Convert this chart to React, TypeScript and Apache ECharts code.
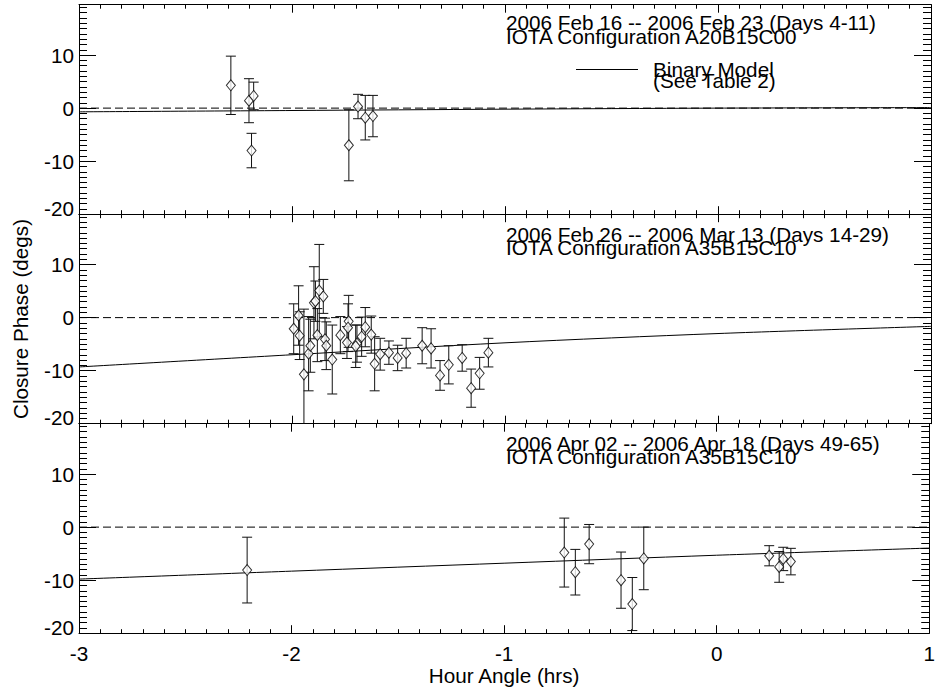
import { useEffect, useRef } from "react";
import * as echarts from "echarts";

// ---------- data ----------
const hourAngleTicks = [-3, -2, -1, 0, 1];
const phaseTicks = [-20, -10, 0, 10];

// Panel 1: 2006 Feb 16 -- Feb 23
const p1HourAngle = [-2.287, -2.202, -2.18, -2.19, -1.733, -1.69, -1.656, -1.62];
const p1Phase = [4.3, 1.4, 2.3, -8.0, -7.0, 0.3, -1.8, -1.5];
const p1Err = [5.5, 4.15, 2.6, 3.25, 6.7, 2.3, 4.2, 3.9];

// Panel 2: 2006 Feb 26 -- Mar 13
const p2HourAngle = [
  -1.992, -1.969, -1.964, -1.944, -1.922, -1.914, -1.897, -1.89, -1.881, -1.872,
  -1.853, -1.845, -1.839, -1.811, -1.773, -1.734, -1.737, -1.742, -1.695, -1.701,
  -1.673, -1.656, -1.628, -1.612, -1.586, -1.545, -1.504, -1.464, -1.389, -1.347,
  -1.305, -1.264, -1.201, -1.159, -1.119, -1.078,
];
const p2Phase = [
  -2.1, 0.4, -3.4, -10.7, -6.8, -5.3, 2.8, 3.1, -3.3, 5.1,
  4.0, -4.1, -5.3, -7.9, -3.3, -0.7, -1.9, -4.7, -4.9, -5.4,
  -3.6, -1.8, -3.2, -8.7, -6.9, -6.6, -7.6, -6.7, -5.3, -5.8,
  -10.9, -8.9, -7.6, -13.3, -10.5, -6.6,
];
const p2Err = [
  4.7, 5.6, 4.5, 12.3, 7.0, 5.0, 6.8, 3.8, 5.0, 8.7,
  3.2, 4.0, 4.5, 6.5, 3.5, 4.9, 4.5, 3.0, 3.5, 4.0,
  3.7, 3.7, 3.5, 5.1, 3.0, 2.2, 2.4, 2.8, 3.4, 3.7,
  2.8, 3.6, 2.5, 3.6, 3.0, 2.7,
];

// Panel 3: 2006 Apr 02 -- Apr 18
const p3HourAngle = [-2.209, -0.717, -0.665, -0.6, -0.45, -0.397, -0.343, 0.247, 0.294, 0.313, 0.349];
const p3Phase = [-8.1, -4.8, -8.5, -3.2, -10.0, -14.5, -5.9, -5.4, -7.5, -6.0, -6.5];
const p3Err = [6.2, 6.5, 4.3, 3.7, 5.3, 5.0, 5.9, 1.9, 2.9, 2.2, 2.5];

// Binary model curves
const modelHourAngle = [-3, -2, -1, 0, 1];
const p1Model = [-0.7, -0.45, -0.2, 0.0, 0.1];
const p2Model = [-9.3, -7.0, -4.75, -3.0, -1.65];
const p3Model = [-9.8, -8.3, -6.8, -5.3, -3.95];

const panelTitles = [
  ["2006 Feb 16 -- 2006 Feb 23 (Days 4-11)", "IOTA Configuration A20B15C00"],
  ["2006 Feb 26 -- 2006 Mar 13 (Days 14-29)", "IOTA Configuration A35B15C10"],
  ["2006 Apr 02 -- 2006 Apr 18 (Days 49-65)", "IOTA Configuration A35B15C10"],
];
const legendLines = ["Binary Model", "(See Table 2)"];
const xTitle = "Hour Angle (hrs)";
const yTitle = "Closure Phase (degs)";

// ---------- layout ----------
const FONT = '"Liberation Sans", Arial, Helvetica, sans-serif';
const FS = 20.7;
const GRID_LEFT = 79;
const GRID_WIDTH = 852;
const GRID_TOPS = [4.7, 214.2, 423.7];
const GRID_H = 209.5;
const TITLE_CY = [29.3, 240.8, 450.0];
const TITLE_LH = 13.6;

export default function App() {
  const ref = useRef<HTMLDivElement>(null);

  useEffect(() => {
    if (!ref.current) return;
    const chart = echarts.init(ref.current, null, { renderer: "svg" });

    const panels = [
      { xs: p1HourAngle, ys: p1Phase, es: p1Err, model: p1Model },
      { xs: p2HourAngle, ys: p2Phase, es: p2Err, model: p2Model },
      { xs: p3HourAngle, ys: p3Phase, es: p3Err, model: p3Model },
    ];

    const black = "#000";
    const tickStyle = { color: black, width: 1 };

    const grids = GRID_TOPS.map((t) => ({
      left: GRID_LEFT,
      width: GRID_WIDTH,
      top: t,
      height: GRID_H,
      containLabel: false,
    }));

    const xAxes: any[] = [];
    const yAxes: any[] = [];
    for (let i = 0; i < 3; i++) {
      xAxes.push({
        gridIndex: i,
        type: "value",
        position: "bottom",
        min: hourAngleTicks[0],
        max: hourAngleTicks[hourAngleTicks.length - 1],
        interval: 1,
        axisLine: { show: true, onZero: false, lineStyle: { color: black, width: 1 } },
        axisTick: { show: true, inside: true, length: 8, lineStyle: tickStyle },
        minorTick: { show: true, splitNumber: 10, length: 4, lineStyle: tickStyle },
        splitLine: { show: false },
        minorSplitLine: { show: false },
        axisLabel: {
          show: i === 2,
          color: black,
          fontFamily: FONT,
          fontSize: FS,
          margin: 10,
          formatter: (v: number) => String(v),
        },
        name: i === 2 ? xTitle : "",
        nameLocation: "middle",
        nameGap: 32,
        nameTextStyle: { color: black, fontFamily: FONT, fontSize: FS },
      });
    }
    for (let i = 0; i < 3; i++) {
      xAxes.push({
        gridIndex: i,
        type: "value",
        position: "top",
        min: hourAngleTicks[0],
        max: hourAngleTicks[hourAngleTicks.length - 1],
        interval: 1,
        axisLine: { show: true, onZero: false, lineStyle: { color: black, width: 1 } },
        axisTick: { show: true, inside: true, length: 8, lineStyle: tickStyle },
        minorTick: { show: true, splitNumber: 10, length: 4, lineStyle: tickStyle },
        splitLine: { show: false },
        axisLabel: { show: false },
      });
    }
    for (let i = 0; i < 3; i++) {
      yAxes.push({
        gridIndex: i,
        type: "value",
        position: "left",
        min: phaseTicks[0],
        max: 19.5,
        interval: 10,
        axisLine: { show: true, onZero: false, lineStyle: { color: black, width: 1 } },
        axisTick: { show: true, inside: true, length: 17, lineStyle: tickStyle },
        minorTick: { show: true, splitNumber: 10, length: 8, lineStyle: tickStyle },
        splitLine: { show: false },
        axisLabel: {
          show: true,
          showMaxLabel: false,
          color: black,
          fontFamily: FONT,
          fontSize: FS,
          margin: 5,
          formatter: (v: number) =>
            v === phaseTicks[0] ? "{lo|" + v + "}" : phaseTicks.indexOf(v) >= 0 ? String(v) : "",
          rich: {
            lo: { fontFamily: FONT, fontSize: FS, color: black, padding: [0, 0, 12, 0] },
          },
        },
      });
    }
    for (let i = 0; i < 3; i++) {
      yAxes.push({
        gridIndex: i,
        type: "value",
        position: "right",
        min: phaseTicks[0],
        max: 19.5,
        interval: 10,
        axisLine: { show: true, onZero: false, lineStyle: { color: black, width: 1 } },
        axisTick: { show: true, inside: true, length: 17, lineStyle: tickStyle },
        minorTick: { show: true, splitNumber: 10, length: 8, lineStyle: tickStyle },
        splitLine: { show: false },
        axisLabel: { show: false },
      });
    }

    const errorRender = (params: any, api: any) => {
      const x = api.value(0);
      const y = api.value(1);
      const e = api.value(2);
      const top = api.coord([x, y + e]);
      const bot = api.coord([x, y - e]);
      const cs = params.coordSys;
      const y0 = cs.y;
      const y1 = cs.y + cs.height;
      const yt = Math.max(top[1], y0);
      const yb = Math.min(bot[1], y1);
      const cx = top[0];
      const hw = 5;
      const st = { stroke: "#111", lineWidth: 1 };
      const children: any[] = [
        { type: "line", shape: { x1: cx, y1: yt, x2: cx, y2: yb }, style: st },
      ];
      if (top[1] >= y0)
        children.push({ type: "line", shape: { x1: cx - hw, y1: top[1], x2: cx + hw, y2: top[1] }, style: st });
      if (bot[1] <= y1)
        children.push({ type: "line", shape: { x1: cx - hw, y1: bot[1], x2: cx + hw, y2: bot[1] }, style: st });
      return { type: "group", children };
    };

    const series: any[] = [];
    panels.forEach((p, i) => {
      series.push({
        type: "line",
        xAxisIndex: i,
        yAxisIndex: i,
        data: [
          [hourAngleTicks[0], 0],
          [hourAngleTicks[hourAngleTicks.length - 1], 0],
        ],
        showSymbol: false,
        lineStyle: { color: black, width: 1, type: [8, 4] },
        silent: true,
        z: 2,
      });
      series.push({
        type: "line",
        xAxisIndex: i,
        yAxisIndex: i,
        data: modelHourAngle.map((x, k) => [x, p.model[k]]),
        showSymbol: false,
        smooth: 0.3,
        lineStyle: { color: black, width: 1 },
        silent: true,
        z: 3,
      });
      series.push({
        type: "custom",
        xAxisIndex: i,
        yAxisIndex: i,
        data: p.xs.map((x, k) => [x, p.ys[k], p.es[k]]),
        encode: { x: 0, y: 1 },
        renderItem: errorRender,
        silent: true,
        z: 4,
      });
      series.push({
        type: "scatter",
        xAxisIndex: i,
        yAxisIndex: i,
        data: p.xs.map((x, k) => [x, p.ys[k]]),
        symbol: "diamond",
        symbolSize: [9, 11],
        itemStyle: { color: "#fff", borderColor: black, borderWidth: 1 },
        silent: true,
        z: 5,
      });
    });

    const textStyle = (text: string, lineHeight: number) => ({
      text,
      fill: black,
      font: `${FS}px ${FONT}`,
      fontSize: FS,
      fontFamily: FONT,
      lineHeight,
      align: "left",
      verticalAlign: "middle",
    });

    const graphic: any[] = [];
    panelTitles.forEach((lines, i) => {
      graphic.push({
        type: "text",
        x: 506,
        y: TITLE_CY[i],
        style: textStyle(lines.join("\n"), TITLE_LH),
        z: 10,
      });
    });
    graphic.push({
      type: "line",
      shape: { x1: 576, y1: 69.5, x2: 638, y2: 69.5 },
      style: { stroke: black, lineWidth: 1 },
      z: 10,
    });
    graphic.push({
      type: "text",
      x: 653,
      y: 75,
      style: textStyle(legendLines.join("\n"), 10.6),
      z: 10,
    });
    graphic.push({
      type: "text",
      x: 20,
      y: 319,
      rotation: Math.PI / 2,
      style: { ...textStyle(yTitle, FS), align: "center" },
      z: 10,
    });

    chart.setOption({
      animation: false,
      backgroundColor: "#fff",
      grid: grids,
      xAxis: xAxes,
      yAxis: yAxes,
      series,
      graphic,
    });

    return () => chart.dispose();
  }, []);

  return (
    <div
      ref={ref}
      style={{ position: "fixed", left: 0, top: 0, width: 938, height: 695, background: "#fff" }}
    />
  );
}
